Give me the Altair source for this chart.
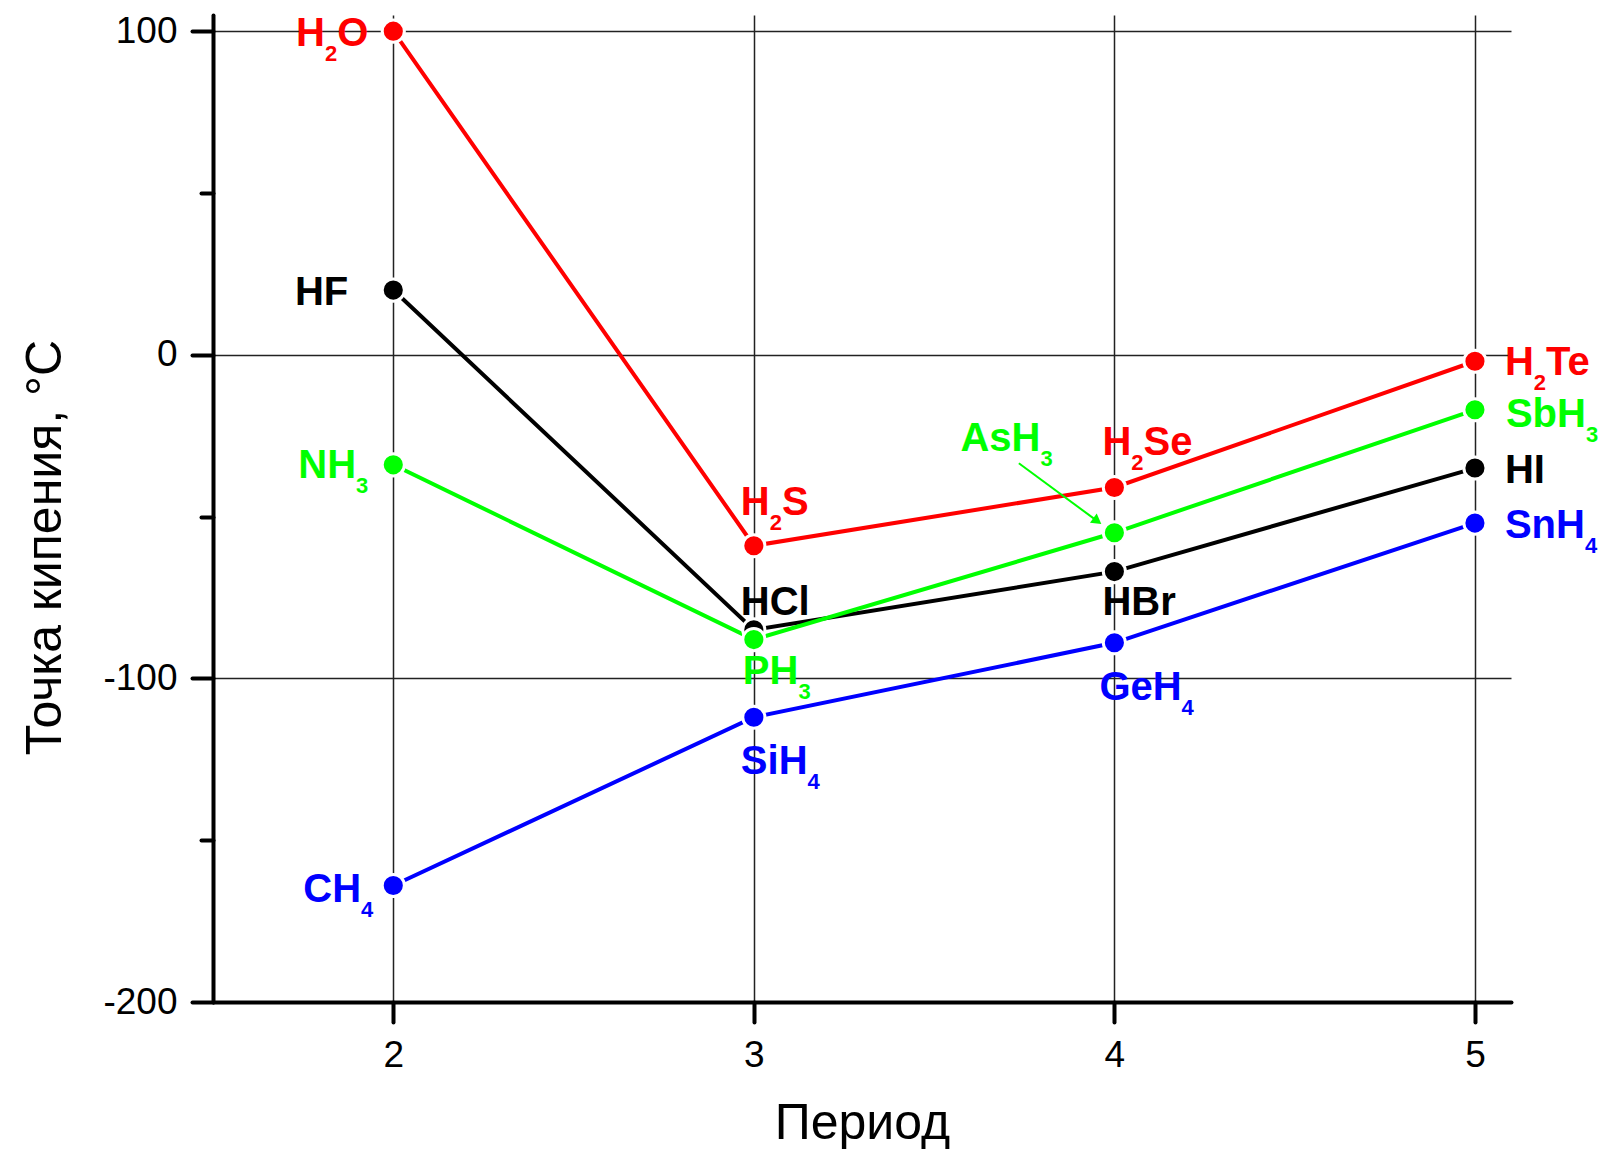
import altair as alt
import pandas as pd

# ---- data ----
periods = [2, 3, 4, 5]

series_ids = ["VI", "VII", "V", "IV"]
series_colors = ["#FF0000", "#000000", "#00FF00", "#0000FF"]

red_names = ["H2O", "H2S", "H2Se", "H2Te"]
red_values = [100, -59, -41, -2]

black_names = ["HF", "HCl", "HBr", "HI"]
black_values = [20, -85, -67, -35]

green_names = ["NH3", "PH3", "AsH3", "SbH3"]
green_values = [-34, -88, -55, -17]

blue_names = ["CH4", "SiH4", "GeH4", "SnH4"]
blue_values = [-164, -112, -89, -52]

y_ticks = [-200, -150, -100, -50, 0, 50, 100]
x_ticks = [2, 3, 4, 5]

arrow_from = [3.735, -33.5]
arrow_to = [3.949, -51.1]

# ---- build table ----
rows = []
for sid, names, vals in zip(series_ids,
                            [red_names, black_names, green_names, blue_names],
                            [red_values, black_values, green_values, blue_values]):
    for p, n, v in zip(periods, names, vals):
        rows.append({"series": sid, "period": p, "value": v, "name": n})
df = pd.DataFrame(rows)

arrow_df = pd.DataFrame([{"x": arrow_from[0], "y": arrow_from[1],
                          "x2": arrow_to[0], "y2": arrow_to[1]}])

FONT = "Liberation Sans"
MAIN_SIZE = 40
SUB_SIZE = 22
SUB_DROP = 15

# Arial-bold advance widths (em) for laying out formula segments
ADV = {"A": .722, "C": .722, "G": .778, "H": .722, "I": .278, "N": .722,
       "O": .778, "P": .667, "S": .667, "T": .611, "F": .611, "B": .722,
       "b": .611, "e": .556, "i": .278, "l": .278, "n": .611, "r": .389,
       "s": .556}
DIGIT = .556


def segments(formula):
    segs = []
    for ch in formula:
        sub = ch.isdigit()
        if segs and segs[-1][1] == sub:
            segs[-1][0] += ch
        else:
            segs.append([ch, sub])
    return segs


def seg_width(text, sub):
    if sub:
        return len(text) * DIGIT * SUB_SIZE
    return sum(ADV.get(c, .6) for c in text) * MAIN_SIZE


xscale = alt.Scale(domain=[1.5, 5.1], nice=False, zero=False)
yscale = alt.Scale(domain=[-200, 105], nice=False, zero=False)
cscale = alt.Scale(domain=series_ids, range=series_colors)

major = "datum.value % 100 === 0"

x_enc = alt.X("period:Q", scale=xscale,
              axis=alt.Axis(values=x_ticks, format="d", title="Период",
                            tickSize=20, labelPadding=15, titlePadding=25,
                            grid=True))
y_enc = alt.Y("value:Q", scale=yscale,
              axis=alt.Axis(values=y_ticks, title="Точка кипения, °C",
                            labelExpr="datum.value % 100 === 0 ? '' + datum.value : ''",
                            tickSize={"condition": {"test": major, "value": 21}, "value": 12},
                            gridOpacity={"condition": {"test": major, "value": 1}, "value": 0},
                            labelPadding=15, titleX=-168, titleY=532,
                            titleBaseline="middle", titleAngle=270))

base = alt.Chart(df)

lines = base.mark_line(strokeWidth=4).encode(
    x=x_enc, y=y_enc,
    color=alt.Color("series:N", scale=cscale, legend=None),
    order="period:Q",
)

points = base.mark_circle(size=490, opacity=1, stroke="white", strokeWidth=3).encode(
    x="period:Q", y="value:Q",
    fill=alt.Fill("series:N", scale=cscale, legend=None),
)

arrow_line = alt.Chart(arrow_df).mark_rule(color="#00FF00", strokeWidth=2).encode(
    x="x:Q", y="y:Q", x2="x2:Q", y2="y2:Q")
arrow_head = alt.Chart(arrow_df).mark_point(shape="triangle", filled=True, size=130,
                                             color="#00FF00", opacity=1, angle=126).encode(
    x="x2:Q", y="y2:Q")

# label placement: (name, align, dx, dy) -- dx to the anchored edge, dy to baseline
placements = [
    ("H2O", "right", -25, 15), ("HF", "right", -45, 15),
    ("NH3", "right", -25, 13), ("CH4", "right", -20, 16),
    ("H2S", "left", -13, -31), ("HCl", "left", -13, -15),
    ("PH3", "left", -11, 44), ("SiH4", "left", -13, 57),
    ("H2Se", "left", -12, -32), ("AsH3", "left", -154, -82),
    ("HBr", "left", -12, 43), ("GeH4", "left", -15, 57),
    ("H2Te", "left", 30, 14), ("SbH3", "left", 31, 17),
    ("HI", "left", 30, 15), ("SnH4", "left", 30, 15),
]

labels = []
for name, align, dx, dy in placements:
    segs = segments(name)
    total = sum(seg_width(t, s) for t, s in segs)
    start = dx if align == "left" else dx - total
    cur = start
    for text, sub in segs:
        labels.append(
            base.transform_filter(alt.datum.name == name).mark_text(
                font=FONT, fontSize=SUB_SIZE if sub else MAIN_SIZE, fontWeight="bold",
                align="left", baseline="alphabetic",
                dx=round(cur, 1), dy=dy + (SUB_DROP if sub else 0), text=text,
            ).encode(
                x="period:Q", y="value:Q",
                color=alt.Color("series:N", scale=cscale, legend=None),
            )
        )
        cur += seg_width(text, sub)

chart = alt.layer(lines, arrow_line, arrow_head, points, *labels).properties(
    width=1298, height=987,
    autosize=alt.AutoSizeParams(type="none"),
    padding={"left": 205, "top": 7, "right": 88, "bottom": 147},
).configure_view(stroke=None).configure_axis(
    domainColor="black", domainWidth=4, domainCap="round",
    tickColor="black", tickWidth=4, tickCap="round",
    gridColor="#222222", gridWidth=1.5,
    labelFont=FONT, labelFontSize=37, labelColor="black",
    titleFont=FONT, titleFontSize=50, titleFontWeight="normal", titleColor="black",
)

chart.save("out.html", embed_options={"renderer": "svg", "actions": False})
